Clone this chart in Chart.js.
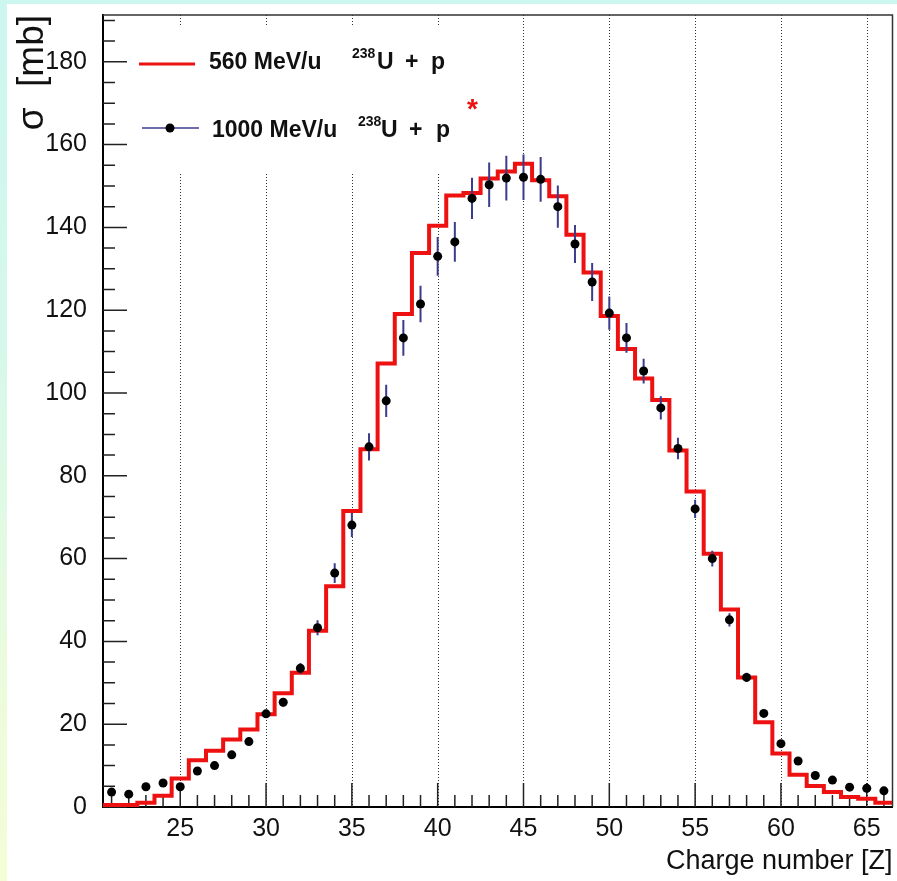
<!DOCTYPE html>
<html>
<head>
<meta charset="utf-8">
<script src="https://cdn.jsdelivr.net/npm/chart.js@4.4.1/dist/chart.umd.min.js"></script>
<style>
  html, body { margin: 0; padding: 0; }
  body {
    width: 897px; height: 881px; overflow: hidden; position: relative;
    background: linear-gradient(to bottom, #cbf7ef 0%, #d6f8ea 40%, #ecfcdb 80%, #f4fdd6 100%);
  }
  #paper { position: absolute; left: 7px; top: 4px; right: 0; bottom: 0; background: #fff; }
  #chart { position: absolute; left: 0; top: 0; }
</style>
</head>
<body>
<div id="paper"></div>
<canvas id="chart" width="897" height="881"></canvas>
<script>
// Charge-changing cross sections, 238U + p

const chargeZ = [21, 22, 23, 24, 25, 26, 27, 28, 29, 30,
                 31, 32, 33, 34, 35, 36, 37, 38, 39, 40,
                 41, 42, 43, 44, 45, 46, 47, 48, 49, 50,
                 51, 52, 53, 54, 55, 56, 57, 58, 59, 60,
                 61, 62, 63, 64, 65, 66];

// 560 MeV/u (histogram)
const sigma560 = [0.5, 0.5, 1.0, 2.7, 6.9, 11.3, 13.6, 16.3, 18.7, 22.4,
                  27.5, 32.4, 42.6, 53.3, 71.5, 86.4, 107.1, 119.1, 133.8, 140.4,
                  147.7, 148.3, 151.8, 153.5, 155.4, 151.4, 147.5, 138.2, 129.1, 118.6,
                  110.6, 103.5, 98.3, 86.1, 76.2, 61.2, 47.7, 31.3, 20.5, 12.9,
                  7.8, 5.1, 3.6, 2.4, 2.0, 1.0];

// 1000 MeV/u (points)
const sigma1000 = [3.6, 3.1, 4.9, 5.8, 4.9, 8.7, 10.0, 12.6, 15.8, 22.5,
                   25.3, 33.5, 43.3, 56.5, 68.1, 87.0, 98.1, 113.3, 121.5, 133.0,
                   136.5, 147.0, 150.3, 151.9, 152.1, 151.6, 145.0, 136.0, 126.8, 119.3,
                   113.3, 105.3, 96.4, 86.6, 72.0, 60.0, 45.2, 31.3, 22.6, 15.3,
                   11.1, 7.6, 6.5, 4.8, 4.5, 3.9];

const sigma1000Err = [0.3, 0.3, 0.4, 0.4, 0.4, 0.5, 0.5, 0.6, 0.7, 0.9,
                      1.0, 1.3, 1.8, 2.4, 2.9, 3.3, 3.9, 4.3, 4.4, 4.7,
                      4.8, 5.0, 5.4, 5.4, 5.5, 5.4, 5.1, 4.6, 4.6, 4.0,
                      3.6, 3.0, 2.8, 2.6, 2.2, 1.9, 1.6, 1.1, 0.8, 0.6,
                      0.4, 0.3, 0.3, 0.2, 0.2, 0.2];

const xTicks = [25, 30, 35, 40, 45, 50, 55, 60, 65];
const yTicks = [0, 20, 40, 60, 80, 100, 120, 140, 160, 180];

const tickFont = { family: "'Liberation Sans', Arial, sans-serif", size: 25 };

// histogram: one point per bin low edge, plus the closing edge
const histPoints = chargeZ.map((z, i) => ({ x: z - 0.5, y: sigma560[i] }));
histPoints.push({ x: chargeZ[chargeZ.length - 1] + 0.5, y: sigma560[sigma560.length - 1] });

const dataPoints = chargeZ.map((z, i) => ({ x: z, y: sigma1000[i] }));

// dotted grid, legend box, inward ticks
const framePlugin = {
    id: 'frame',
    beforeDatasetsDraw(chart) {
        const { ctx, chartArea: a, scales: { x, y } } = chart;
        ctx.save();
        ctx.strokeStyle = '#333';
        ctx.lineWidth = 1;
        ctx.setLineDash([1, 2]);
        ctx.beginPath();
        xTicks.forEach(v => {
            const px = Math.round(x.getPixelForValue(v)) + 0.5;
            ctx.moveTo(px, a.top);
            ctx.lineTo(px, a.bottom);
        });
        ctx.stroke();
        ctx.setLineDash([]);

        // legend background
        ctx.fillStyle = '#fff';
        ctx.fillRect(130, 27, 355, 145);

        ctx.strokeStyle = '#222';
        ctx.lineWidth = 1.5;
        ctx.beginPath();
        for (let v = 21; v <= 66; v++) {
            const px = x.getPixelForValue(v);
            const len = v % 5 === 0 ? 24 : 12;
            ctx.moveTo(px, a.bottom);
            ctx.lineTo(px, a.bottom - len);
        }
        for (let v = 0; v <= 190; v += 5) {
            const py = y.getPixelForValue(v);
            const len = v % 20 === 0 ? 24 : 12;
            ctx.moveTo(a.left, py);
            ctx.lineTo(a.left + len, py);
        }
        ctx.stroke();
        ctx.restore();
    },
    beforeDatasetDraw(chart, args) {
        if (args.index !== 1) return;
        const { ctx, scales: { x, y } } = chart;
        ctx.save();
        ctx.strokeStyle = '#3c3c8c';
        ctx.lineWidth = 2;
        ctx.beginPath();
        chargeZ.forEach((z, i) => {
            const px = x.getPixelForValue(z);
            ctx.moveTo(px, y.getPixelForValue(sigma1000[i] - sigma1000Err[i]));
            ctx.lineTo(px, y.getPixelForValue(sigma1000[i] + sigma1000Err[i]));
        });
        ctx.stroke();
        ctx.restore();
    },
    afterDraw(chart) {
        const { ctx, chartArea: a } = chart;
        ctx.save();
        // top and right frame
        ctx.strokeStyle = '#333';
        ctx.lineWidth = 1.5;
        ctx.beginPath();
        ctx.moveTo(a.left, a.top);
        ctx.lineTo(a.right, a.top);
        ctx.lineTo(a.right, a.bottom);
        ctx.stroke();

        // legend
        const bold = s => `bold ${s}px 'Liberation Sans', Arial, sans-serif`;
        ctx.strokeStyle = '#ee1111';
        ctx.lineWidth = 3;
        ctx.beginPath();
        ctx.moveTo(139, 64);
        ctx.lineTo(195, 64);
        ctx.stroke();

        ctx.strokeStyle = '#3c3c8c';
        ctx.lineWidth = 1.5;
        ctx.beginPath();
        ctx.moveTo(142, 128);
        ctx.lineTo(199, 128);
        ctx.stroke();
        ctx.fillStyle = '#000';
        ctx.beginPath();
        ctx.arc(170, 128, 4.5, 0, Math.PI * 2);
        ctx.fill();

        ctx.fillStyle = '#111';
        ctx.textBaseline = 'alphabetic';
        ctx.font = bold(23);
        ctx.fillText('560 MeV/u', 209, 69);
        ctx.fillText('U', 377, 69);
        ctx.fillText('+', 405, 69);
        ctx.fillText('p', 431, 69);
        ctx.fillText('1000 MeV/u', 212, 137);
        ctx.fillText('U', 381, 137);
        ctx.fillText('+', 409, 137);
        ctx.fillText('p', 436, 137);
        ctx.font = bold(14);
        ctx.fillText('238', 352, 58);
        ctx.fillText('238', 358, 126);
        ctx.fillStyle = '#ee1111';
        ctx.font = bold(28);
        ctx.fillText('*', 467, 118);
        ctx.restore();
    }
};

const ctx = document.getElementById('chart').getContext('2d');
new Chart(ctx, {
    type: 'scatter',
    data: {
        datasets: [
            {
                type: 'line',
                label: '560 MeV/u 238U + p',
                data: histPoints,
                stepped: true,
                borderColor: '#ee1111',
                borderWidth: 4,
                pointRadius: 0,
                fill: false,
                order: 2
            },
            {
                label: '1000 MeV/u 238U + p*',
                data: dataPoints,
                pointRadius: 4.5,
                pointBackgroundColor: '#000',
                pointBorderWidth: 0,
                showLine: false,
                order: 1
            }
        ]
    },
    options: {
        responsive: false,
        animation: false,
        events: [],
        layout: { padding: { top: 15, right: 4, left: 0, bottom: 0 } },
        plugins: {
            legend: { display: false },
            tooltip: { enabled: false }
        },
        scales: {
            x: {
                type: 'linear',
                min: 20.5,
                max: 66.5,
                afterBuildTicks: s => { s.ticks = xTicks.map(v => ({ value: v })); },
                afterFit: s => {
                    s.height = 74;
                    s.paddingLeft = 0;
                    s.paddingRight = 0;
                },
                grid: { display: false },
                border: { display: true, color: '#000', width: 2 },
                ticks: { color: '#111', font: tickFont, padding: -1, maxRotation: 0, autoSkip: false },
                title: {
                    display: true,
                    text: 'Charge number [Z]',
                    align: 'end',
                    color: '#111',
                    font: { family: "'Liberation Sans', Arial, sans-serif", size: 27 },
                    padding: { top: 0, bottom: 3 }
                }
            },
            y: {
                type: 'linear',
                min: 0,
                max: 191.3,
                afterBuildTicks: s => { s.ticks = yTicks.map(v => ({ value: v })); },
                afterFit: s => {
                    s.width = 103;
                    s.paddingTop = 0;
                    s.paddingBottom = 0;
                },
                grid: { display: false },
                border: { display: true, color: '#000', width: 2 },
                ticks: { color: '#111', font: tickFont, padding: 8, autoSkip: false },
                title: {
                    display: true,
                    text: 'σ  [mb]',
                    align: 'end',
                    color: '#111',
                    font: { family: "'Liberation Sans', Arial, sans-serif", size: 37 },
                    padding: { top: 11, bottom: 0 }
                }
            }
        }
    },
    plugins: [framePlugin]
});
</script>
</body>
</html>
